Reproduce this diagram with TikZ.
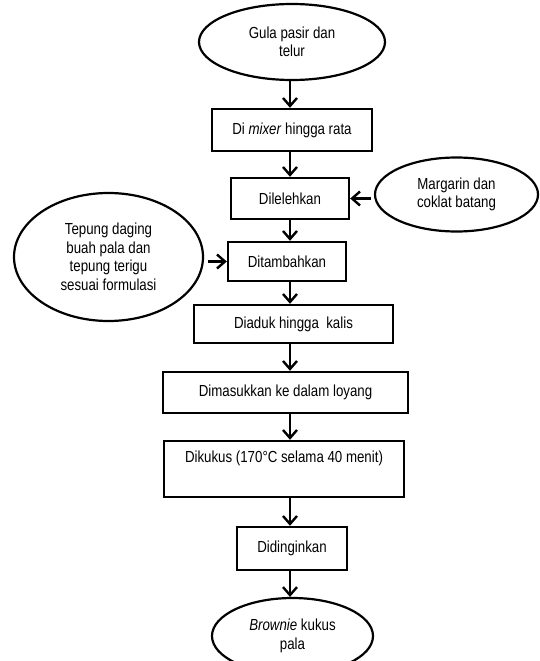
\documentclass[tikz,border=0pt]{standalone}
\usepackage{fontspec}
\setmainfont[FakeStretch=0.83]{Liberation Sans}
\usetikzlibrary{arrows.meta,shapes.geometric}
\begin{document}
\begin{tikzpicture}[x=1pt,y=-1pt,
  every node/.style={font=\fontsize{16}{18.5}\selectfont, align=center, inner sep=0pt},
  boxn/.style={draw, line width=2.4pt, rectangle},
  ell/.style={draw, line width=2.2pt, ellipse},
  arr/.style={line width=2.4pt, -{Straight Barb[length=8pt,width=14pt]}}
]
\useasboundingbox (0,0) rectangle (540,661);
\clip (0,0) rectangle (540,661);
\coordinate (X) at (290,0);
% start / end ellipses
\node[ell, minimum width=186pt, minimum height=76pt] (e1) at (292,42) {Gula pasir dan\\telur};
\node[ell, minimum width=163pt, minimum height=74pt] (m) at (456.5,194.5) {Margarin dan\\coklat batang};
\node[ell, minimum width=189pt, minimum height=128pt] (t) at (108.5,257) {Tepung daging\\buah pala dan\\tepung terigu\\sesuai formulasi};
\node[ell, minimum width=161pt, minimum height=76pt] (e2) at (292.5,636) {\textit{Brownie} kukus\\pala};
% process boxes
\node[boxn, minimum width=160pt, minimum height=42pt] (b1) at (292,130) {Di \textit{mixer} hingga rata};
\node[boxn, minimum width=118pt, minimum height=41pt] (b2) at (290,198.5) {Dilelehkan};
\node[boxn, minimum width=118pt, minimum height=39pt] (b3) at (287,261.5) {Ditambahkan};
\node[boxn, minimum width=199pt, minimum height=38pt] (b4) at (293.5,324) {Diaduk hingga\ \ kalis};
\node[boxn, minimum width=245pt, minimum height=41pt] (b5) at (285.5,392.5) {Dimasukkan ke dalam loyang};
\node[boxn, minimum width=240pt, minimum height=56pt] (b6) at (284,469) {Dikukus (170°C selama 40 menit)\\\strut};
\node[boxn, minimum width=110pt, minimum height=43pt] (b7) at (292,548.5) {Didinginkan};
% connectors
\draw[arr] (e1.south -| X) -- (b1.north -| X);
\draw[arr] (b1.south -| X) -- (b2.north -| X);
\draw[arr] (b2.south -| X) -- (b3.north -| X);
\draw[arr] (b3.south -| X) -- (b4.north -| X);
\draw[arr] (b4.south -| X) -- (b5.north -| X);
\draw[arr] (b5.south -| X) -- (b6.north -| X);
\draw[arr] (b6.south -| X) -- (b7.north -| X);
\draw[arr] (b7.south -| X) -- (e2.north -| X);
\draw[arr, shorten <=3pt] (m.west |- b2.east) -- (b2.east);
\draw[arr, shorten <=4pt] (t.east |- b3.west) -- (b3.west);
\end{tikzpicture}
\end{document}
